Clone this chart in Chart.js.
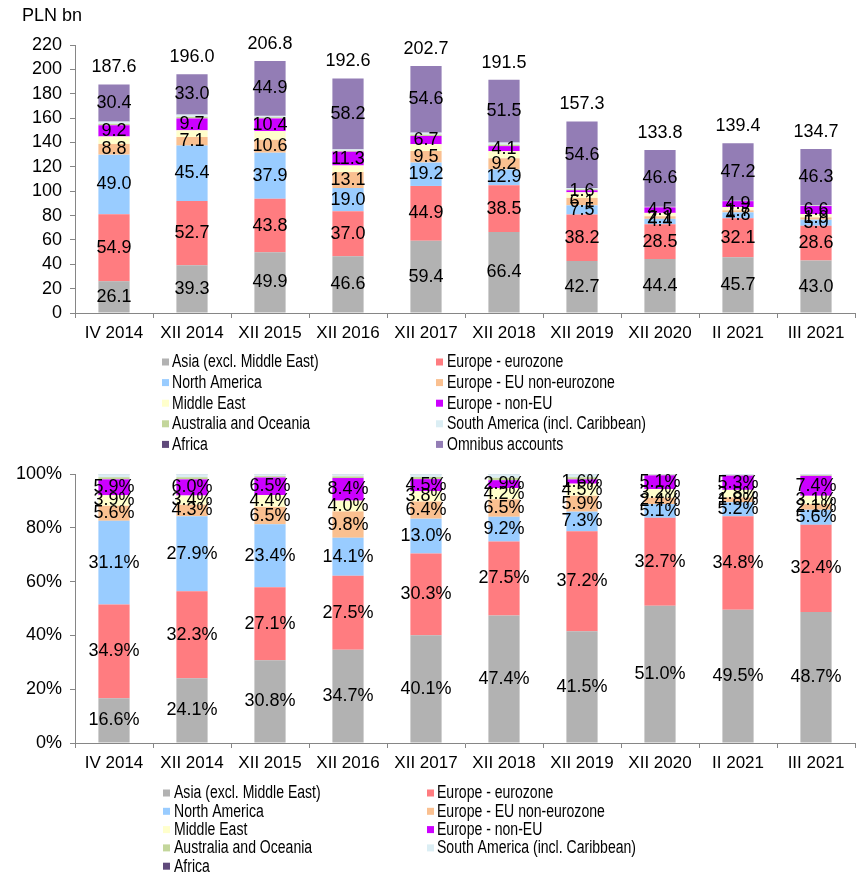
<!DOCTYPE html>
<html>
<head>
<meta charset="utf-8">
<script src="https://cdn.jsdelivr.net/npm/chart.js@4.4.0/dist/chart.umd.min.js"></script>
<style>
  body { margin: 0; background: #fff; }
  canvas { position: absolute; left: 0; }
  #top { top: 0; }
  #bottom { top: 455px; }
</style>
</head>
<body>
<canvas id="top" width="865" height="455"></canvas>
<canvas id="bottom" width="865" height="419"></canvas>
<script>
// Категории
const categories = ['IV 2014', 'XII 2014', 'XII 2015', 'XII 2016', 'XII 2017', 'XII 2018', 'XII 2019', 'XII 2020', 'II 2021', 'III 2021'];

// Верхний график, PLN bn
const asia        = [26.1, 39.3, 49.9, 46.6, 59.4, 66.4, 42.7, 44.4, 45.7, 43.0];
const eurozone    = [54.9, 52.7, 43.8, 37.0, 44.9, 38.5, 38.2, 28.5, 32.1, 28.6];
const northAm     = [49.0, 45.4, 37.9, 19.0, 19.2, 12.9, 7.5, 4.4, 4.8, 5.0];
const euNonEuro   = [8.8, 7.1, 10.6, 13.1, 9.5, 9.2, 6.1, 2.1, 1.7, 1.9];
const middleEast  = [6.1, 5.5, 7.1, 5.4, 5.6, 5.9, 4.6, 2.8, 2.6, 2.7];
const europeNonEu = [9.2, 9.7, 10.4, 11.3, 6.7, 4.1, 1.6, 4.5, 4.9, 6.6];
const australia   = [1.2, 1.3, 0.9, 0.8, 1.1, 1.2, 0.8, 0.2, 0.1, 0.2];
const southAm     = [1.8, 1.9, 1.2, 1.1, 1.6, 1.7, 1.1, 0.2, 0.2, 0.3];
const africa      = [0.1, 0.1, 0.1, 0.1, 0.1, 0.1, 0.1, 0.1, 0.1, 0.1];
const omnibus     = [30.4, 33.0, 44.9, 58.2, 54.6, 51.5, 54.6, 46.6, 47.2, 46.3];
const totals      = [187.6, 196.0, 206.8, 192.6, 202.7, 191.5, 157.3, 133.8, 139.4, 134.7];

// Нижний график, % (без omnibus)
const asiaPct        = [16.6, 24.1, 30.8, 34.7, 40.1, 47.4, 41.5, 51.0, 49.5, 48.7];
const eurozonePct    = [34.9, 32.3, 27.1, 27.5, 30.3, 27.5, 37.2, 32.7, 34.8, 32.4];
const northAmPct     = [31.1, 27.9, 23.4, 14.1, 13.0, 9.2, 7.3, 5.1, 5.2, 5.6];
const euNonEuroPct   = [5.6, 4.3, 6.5, 9.8, 6.4, 6.5, 5.9, 2.4, 1.8, 2.1];
const middleEastPct  = [3.9, 3.4, 4.4, 4.0, 3.8, 4.2, 4.5, 3.2, 2.8, 3.1];
const europeNonEuPct = [5.9, 6.0, 6.5, 8.4, 4.5, 2.9, 1.6, 5.1, 5.3, 7.4];
const australiaPct   = [0.8, 0.8, 0.5, 0.6, 0.8, 0.9, 0.8, 0.2, 0.2, 0.3];
const southAmPct     = [1.1, 1.1, 0.7, 0.8, 1.0, 1.3, 1.1, 0.2, 0.3, 0.3];
const africaPct      = [0.1, 0.1, 0.1, 0.1, 0.1, 0.1, 0.1, 0.1, 0.1, 0.1];

const yTicksTop = [0, 220, 20];
const yTicksBottom = [0, 100, 20];

const FONT = '"Liberation Sans", Arial, sans-serif';
const AXIS_COLOR = '#868686';

const series = [
  { label: 'Asia (excl. Middle East)',      color: '#b2b2b2' },
  { label: 'Europe - eurozone',             color: '#ff7c80' },
  { label: 'North America',                 color: '#99ccff' },
  { label: 'Europe - EU non-eurozone',      color: '#fac090' },
  { label: 'Middle East',                   color: '#ffffcc' },
  { label: 'Europe - non-EU',               color: '#cc00ff' },
  { label: 'Australia and Oceania',         color: '#c3d69b' },
  { label: 'South America (incl. Caribbean)', color: '#dbeef4' },
  { label: 'Africa',                        color: '#604a7b' },
  { label: 'Omnibus accounts',              color: '#937db5' }
];

// подписи сегментов и сумм
const segmentLabels = {
  id: 'segmentLabels',
  afterDatasetsDraw(chart, args, opts) {
    const ctx = chart.ctx;
    ctx.save();
    ctx.font = '18px ' + FONT;
    ctx.fillStyle = '#000';
    ctx.textAlign = 'center';
    ctx.textBaseline = 'middle';
    chart.data.datasets.forEach((ds, di) => {
      if (!opts.show.includes(di)) return;
      chart.getDatasetMeta(di).data.forEach((bar, i) => {
        ctx.fillText(ds.data[i].toFixed(1) + opts.suffix, bar.x, (bar.y + bar.base) / 2);
      });
    });
    if (opts.totals) {
      const last = chart.getDatasetMeta(chart.data.datasets.length - 1);
      last.data.forEach((bar, i) => {
        ctx.fillText(opts.totals[i].toFixed(1), bar.x, bar.y - 17);
      });
    }
    if (opts.unit) {
      ctx.textAlign = 'left';
      ctx.fillText(opts.unit, 22, 16);
    }
    ctx.restore();
  }
};

// легенда в две колонки (текст сжат по ширине)
const twoColLegend = {
  id: 'twoColLegend',
  afterDraw(chart, args, opts) {
    const ctx = chart.ctx;
    ctx.save();
    ctx.font = '18px ' + FONT;
    ctx.textBaseline = 'middle';
    ctx.textAlign = 'left';
    chart.data.datasets.forEach((ds, i) => {
      const col = i % 2, row = Math.floor(i / 2);
      const y = opts.y0 + row * opts.dy;
      const bx = opts.boxX[col], tx = opts.textX[col];
      ctx.fillStyle = ds.backgroundColor;
      ctx.fillRect(bx, y - 4, 7, 7);
      ctx.fillStyle = '#000';
      const w = ctx.measureText(ds.label).width;
      ctx.fillText(ds.label, tx, y, w * 0.78);
    });
    ctx.restore();
  }
};

function makeChart(id, dataArrays, cfg) {
  const datasets = dataArrays.map((d, i) => ({
    label: series[i].label,
    data: d,
    backgroundColor: series[i].color,
    borderWidth: 0,
    barPercentage: 0.4,
    categoryPercentage: 1
  }));
  return new Chart(document.getElementById(id), {
    type: 'bar',
    data: { labels: categories, datasets },
    options: {
      responsive: false,
      devicePixelRatio: 1,
      animation: false,
      layout: { padding: cfg.padding },
      plugins: {
        legend: { display: false },
        tooltip: { enabled: false },
        segmentLabels: cfg.labels,
        twoColLegend: cfg.legend
      },
      scales: {
        x: {
          stacked: true,
          afterFit: s => { s.height = 30; },
          grid: { drawOnChartArea: false, color: AXIS_COLOR, tickLength: 5 },
          border: { color: AXIS_COLOR },
          ticks: { color: '#000', font: { size: 17, family: FONT }, padding: 5, maxRotation: 0, autoSkip: false }
        },
        y: {
          stacked: true,
          min: cfg.yTicks[0], max: cfg.yTicks[1],
          afterFit: s => { s.width = 75; },
          grid: { drawOnChartArea: false, color: AXIS_COLOR, tickLength: 5 },
          border: { color: AXIS_COLOR },
          ticks: {
            stepSize: cfg.yTicks[2], color: '#000', padding: 8, autoSkip: false,
            font: { size: 18, family: FONT },
            callback: v => v + cfg.tickSuffix
          }
        }
      }
    },
    plugins: [segmentLabels, twoColLegend]
  });
}

makeChart('top',
  [asia, eurozone, northAm, euNonEuro, middleEast, europeNonEu, australia, southAm, africa, omnibus],
  {
    padding: { top: 45, right: 10, bottom: 112, left: 0 },
    yTicks: yTicksTop,
    tickSuffix: '',
    labels: { show: [0, 1, 2, 3, 5, 9], suffix: '', totals: totals, unit: 'PLN bn' },
    legend: { y0: 362.5, dy: 20.6, boxX: [162, 436], textX: [172, 447] }
  });

makeChart('bottom',
  [asiaPct, eurozonePct, northAmPct, euNonEuroPct, middleEastPct, europeNonEuPct, australiaPct, southAmPct, africaPct],
  {
    padding: { top: 19, right: 10, bottom: 101, left: 0 },
    yTicks: yTicksBottom,
    tickSuffix: '%',
    labels: { show: [0, 1, 2, 3, 4, 5], suffix: '%' },
    legend: { y0: 338.5, dy: 18.3, boxX: [163, 427], textX: [174, 437] }
  });
</script>
</body>
</html>
